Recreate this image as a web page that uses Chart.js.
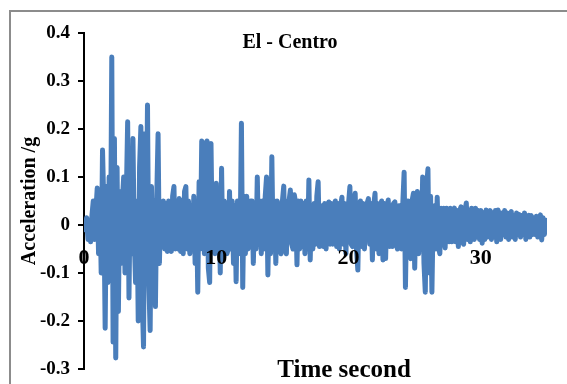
<!DOCTYPE html>
<html>
<head>
<meta charset="utf-8">
<script src="https://cdn.jsdelivr.net/npm/chart.js@4/dist/chart.umd.min.js"></script>
<style>
  html, body { margin: 0; padding: 0; background: #ffffff; overflow: hidden; }
  canvas { display: block; }
</style>
</head>
<body>
<canvas id="chart" width="567" height="384"></canvas>
<script>
// El Centro ground motion record: acceleration (g) against time (s)
const chartTitle = 'El - Centro';
const xAxisTitle = 'Time second';
const yAxisTitle = 'Acceleration /g';

const sampleInterval = 0.1; // seconds between samples
const timeTicks = [0, 10, 20, 30];
const accelTicks = [-0.3, -0.2, -0.1, 0, 0.1, 0.2, 0.3, 0.4];
const accelTickLabels = ['-0.3', '-0.2', '-0.1', '0', '0.1', '0.2', '0.3', '0.4'];

// one row per second, ten samples each
const acceleration = [
  0.000, -0.010, 0.015, -0.030, 0.010, -0.035, 0.020, 0.050, -0.030, 0.030,
  0.077, -0.060, 0.060, -0.100, 0.156, 0.040, -0.215, 0.080, -0.120, 0.100,
  -0.080, 0.350, -0.244, 0.180, -0.277, 0.120, -0.180, 0.070, -0.080, 0.050,
  0.100, -0.100, 0.060, 0.215, -0.152, 0.090, -0.060, 0.180, -0.030, -0.120,
  0.050, -0.200, 0.120, 0.205, -0.150, -0.254, 0.190, -0.050, 0.250, -0.120,
  -0.220, 0.080, -0.100, 0.050, -0.170, 0.060, 0.190, -0.080, 0.040, -0.020,
  0.050, -0.050, 0.045, -0.055, 0.050, -0.045, -0.055, 0.060, 0.080, -0.050,
  0.045, -0.050, 0.055, -0.055, 0.050, -0.060, 0.070, 0.080, -0.050, 0.050,
  -0.060, 0.040, -0.050, 0.060, -0.080, 0.050, -0.140, 0.090, -0.050, 0.175,
  0.160, -0.060, 0.170, 0.175, -0.090, -0.120, 0.170, -0.040, 0.050, -0.060,
  0.087, -0.050, 0.060, -0.100, 0.118, -0.070, 0.050, 0.040, -0.060, -0.050,
  0.070, -0.050, 0.050, -0.080, 0.040, -0.118, 0.050, -0.060, -0.040, 0.212,
  -0.130, 0.060, -0.060, 0.060, -0.050, -0.028, 0.050, 0.050, -0.080, 0.040,
  -0.050, 0.100, -0.040, 0.050, -0.060, 0.050, -0.050, 0.060, 0.100, -0.104,
  0.050, -0.060, 0.142, -0.050, 0.050, -0.080, 0.050, 0.040, -0.050, -0.060,
  0.050, 0.081, -0.050, -0.060, 0.050, 0.050, 0.073, -0.040, -0.050, 0.063,
  0.045, -0.083, 0.050, -0.050, 0.050, -0.045, 0.045, -0.060, 0.050, -0.050,
  0.094, -0.073, 0.040, -0.050, 0.045, -0.040, 0.060, 0.090, -0.045, -0.040,
  0.040, -0.045, 0.045, -0.050, 0.040, 0.048, -0.040, 0.045, -0.040, 0.040,
  0.050, -0.045, 0.045, -0.050, 0.040, 0.058, -0.040, 0.045, -0.060, 0.040,
  0.045, 0.080, -0.040, -0.045, 0.050, 0.066, -0.050, -0.094, 0.045, 0.050,
  -0.045, 0.045, -0.050, 0.040, 0.045, 0.055, -0.040, 0.045, -0.073, 0.040,
  0.066, -0.050, 0.045, -0.060, 0.040, 0.050, -0.073, 0.045, -0.070, 0.040,
  0.052, -0.045, 0.040, -0.045, 0.045, 0.048, -0.040, -0.050, 0.040, 0.040,
  -0.050, 0.045, 0.110, -0.130, 0.045, 0.050, -0.060, -0.070, 0.050, 0.066,
  -0.090, 0.050, 0.070, -0.060, 0.060, -0.050, 0.100, -0.080, -0.140, 0.080,
  0.117, -0.100, 0.060, -0.140, 0.030, 0.040, -0.050, 0.058, -0.045, -0.060,
  0.035, -0.040, 0.035, -0.048, 0.035, 0.030, -0.035, 0.035, -0.035, 0.030,
  0.035, -0.035, 0.030, -0.045, 0.030, 0.038, -0.035, -0.040, 0.030, 0.046,
  -0.030, 0.030, -0.035, 0.035, 0.020, -0.030, 0.035, -0.025, 0.030, -0.030,
  0.030, -0.038, 0.025, -0.030, 0.031, -0.025, 0.020, 0.030, -0.030, 0.025,
  -0.025, 0.030, -0.035, 0.031, 0.020, -0.030, 0.025, -0.020, 0.030, -0.025,
  0.025, -0.030, 0.020, 0.028, -0.025, 0.020, -0.030, 0.025, -0.020, 0.022,
  -0.025, 0.020, -0.020, 0.025, -0.030, 0.018, 0.020, -0.025, 0.020, -0.020,
  0.015, -0.020, 0.018, -0.025, 0.015, 0.021, -0.031, 0.015, -0.020, 0.010,
  -0.010
];

const serif = "'Liberation Serif', 'Times New Roman', serif";
const lineColor = '#4a7ebb';

const points = acceleration.map((a, i) => ({ x: +(i * sampleInterval).toFixed(2), y: a }));

// grey frame around the whole figure
const framePlugin = {
  id: 'frame',
  beforeDraw(chart) {
    const ctx = chart.ctx;
    ctx.save();
    ctx.strokeStyle = '#8c8c8c';
    ctx.lineWidth = 2;
    ctx.strokeRect(10, 11, 700, 500);
    ctx.restore();
  }
};

// chart title and axis titles
const labelsPlugin = {
  id: 'labels',
  afterDraw(chart) {
    const ctx = chart.ctx;
    const area = chart.chartArea;
    ctx.save();
    ctx.fillStyle = '#000';
    ctx.textAlign = 'center';
    ctx.textBaseline = 'alphabetic';

    ctx.font = 'bold 20px ' + serif;
    ctx.fillText(chartTitle, 290, 48);

    ctx.font = 'bold 25px ' + serif;
    ctx.fillText(xAxisTitle, 344, 377);

    ctx.translate(35, (area.top + area.bottom) / 2);
    ctx.rotate(-Math.PI / 2);
    ctx.font = 'bold 20px ' + serif;
    ctx.fillText(yAxisTitle, 0, 0);
    ctx.restore();
  }
};

// the plot area is set by layout padding alone
const noScalePadding = (scale) => {
  scale.paddingTop = 0;
  scale.paddingBottom = 0;
  scale.paddingLeft = 0;
  scale.paddingRight = 0;
};

new Chart(document.getElementById('chart'), {
  type: 'line',
  data: {
    datasets: [{
      data: points,
      borderColor: lineColor,
      borderWidth: 5,
      borderCapStyle: 'round',
      borderJoinStyle: 'round',
      pointRadius: 0,
      tension: 0,
      fill: false
    }]
  },
  options: {
    responsive: false,
    animation: false,
    devicePixelRatio: 1,
    layout: { padding: { top: 33, bottom: 15, right: 20, left: 0 } },
    plugins: { legend: { display: false }, tooltip: { enabled: false } },
    scales: {
      x: {
        type: 'linear',
        min: 0,
        max: 35,
        position: { y: 0 },
        afterBuildTicks: (scale) => { scale.ticks = timeTicks.map(v => ({ value: v })); },
        afterFit: noScalePadding,
        grid: { display: false },
        border: { display: false },
        ticks: {
          z: 1,
          color: '#000',
          font: { family: serif, size: 22, weight: 'bold' },
          padding: 12,
          maxRotation: 0,
          autoSkip: false
        }
      },
      y: {
        type: 'linear',
        min: -0.3,
        max: 0.4,
        afterFit: (scale) => { scale.width = 84; noScalePadding(scale); },
        afterBuildTicks: (scale) => { scale.ticks = accelTicks.map(v => ({ value: v })); },
        grid: { display: true, drawOnChartArea: false, drawTicks: true, tickLength: 6, color: '#000', lineWidth: 2 },
        border: { display: true, color: '#000', width: 2 },
        ticks: {
          color: '#000',
          font: { family: serif, size: 19, weight: 'bold' },
          padding: 8,
          callback: (value, index) => accelTickLabels[index]
        }
      }
    }
  },
  plugins: [framePlugin, labelsPlugin]
});
</script>
</body>
</html>
